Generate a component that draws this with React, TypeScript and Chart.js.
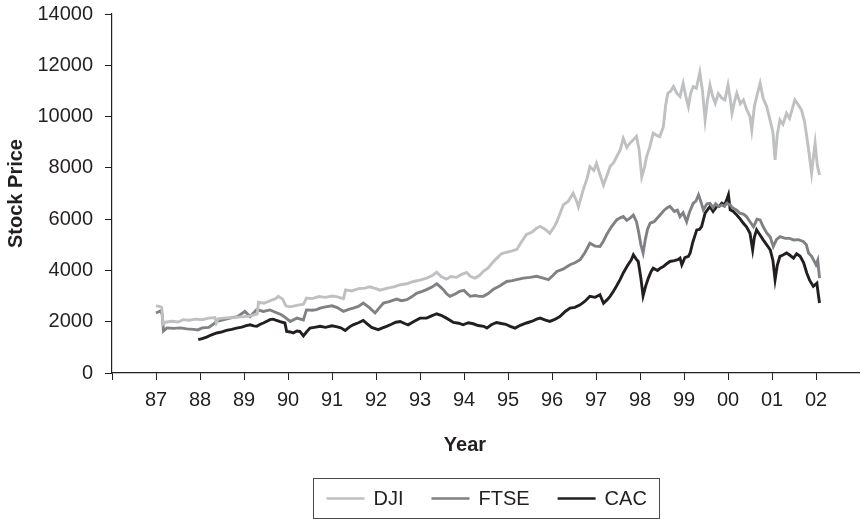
import React, { useEffect, useRef } from "react";
import { Chart, registerables } from "chart.js";

Chart.register(...registerables);

const FAMILY = "'Liberation Sans', Arial, Helvetica, sans-serif";
const TEXT = "#231f20";

const Y_TITLE = "Stock Price";
const X_TITLE = "Year";
const SERIES_NAMES = ["DJI", "FTSE", "CAC"];
const SERIES_COLORS = ["#bfc0c2", "#808184", "#231f20"];

const YEAR_MIN = 1986;
const YEAR_MAX = 2003;
const Y_MIN = 0;
const Y_MAX = 14000;
const Y_STEP = 2000;

// [year, value]
const DJI: [number, number][] = [
  [1987.0, 2620], [1987.08, 2600], [1987.13, 2560], [1987.16, 1900], [1987.22, 1980], [1987.35, 2020],
  [1987.5, 1990], [1987.62, 2080], [1987.75, 2060], [1987.9, 2100], [1988.05, 2080], [1988.2, 2140],
  [1988.34, 2160], [1988.37, 1950], [1988.42, 2120], [1988.6, 2150], [1988.8, 2170], [1989.0, 2200],
  [1989.15, 2230], [1989.3, 2300], [1989.33, 2760], [1989.45, 2720], [1989.6, 2820], [1989.72, 2900],
  [1989.78, 2990], [1989.88, 2880], [1989.95, 2620], [1990.05, 2580], [1990.2, 2640], [1990.35, 2680],
  [1990.42, 2920], [1990.55, 2900], [1990.7, 2980], [1990.85, 2950], [1991.0, 3000], [1991.12, 2970],
  [1991.26, 2900], [1991.31, 3240], [1991.45, 3200], [1991.6, 3290], [1991.75, 3310], [1991.86, 3360],
  [1992.0, 3290], [1992.09, 3230], [1992.24, 3300], [1992.4, 3360], [1992.55, 3440], [1992.7, 3480],
  [1992.85, 3570], [1993.0, 3620], [1993.15, 3700], [1993.28, 3800], [1993.38, 3930], [1993.48, 3760],
  [1993.6, 3660], [1993.7, 3760], [1993.83, 3730], [1993.95, 3850], [1994.06, 3920], [1994.15, 3760],
  [1994.25, 3700], [1994.35, 3800], [1994.44, 3960], [1994.55, 4100], [1994.67, 4350], [1994.76, 4500],
  [1994.85, 4650], [1994.95, 4700], [1995.1, 4760], [1995.2, 4820], [1995.3, 5100], [1995.42, 5400],
  [1995.55, 5500], [1995.65, 5650], [1995.73, 5720], [1995.85, 5600], [1995.95, 5450], [1996.05, 5700],
  [1996.11, 5900], [1996.2, 6300], [1996.26, 6560], [1996.37, 6700], [1996.48, 7010], [1996.56, 6700],
  [1996.6, 6480], [1996.71, 7150], [1996.8, 7600], [1996.86, 8050], [1996.95, 7900], [1997.01, 8180],
  [1997.08, 7800], [1997.17, 7330], [1997.25, 7700], [1997.32, 8050], [1997.4, 8200], [1997.47, 8440],
  [1997.55, 8700], [1997.62, 9150], [1997.7, 8800], [1997.77, 8960], [1997.85, 9100], [1997.92, 9230],
  [1997.98, 8700], [1998.04, 7650], [1998.1, 8000], [1998.15, 8440], [1998.22, 8800], [1998.3, 9350],
  [1998.4, 9250], [1998.45, 9220], [1998.53, 9600], [1998.58, 10400], [1998.63, 10900], [1998.7, 11000],
  [1998.76, 11170], [1998.84, 10900], [1998.91, 10780], [1998.98, 11300], [1999.04, 10800], [1999.1, 10390],
  [1999.15, 10900], [1999.21, 11170], [1999.28, 11100], [1999.36, 11720], [1999.42, 11000], [1999.48, 9870],
  [1999.53, 10600], [1999.59, 11230], [1999.65, 10800], [1999.71, 10520], [1999.78, 10900], [1999.86, 10720],
  [1999.93, 10650], [2000.0, 11230], [2000.05, 10700], [2000.09, 10130], [2000.15, 10600], [2000.2, 10910],
  [2000.28, 10500], [2000.35, 10650], [2000.42, 10300], [2000.5, 10000], [2000.54, 9480], [2000.6, 10400],
  [2000.67, 10900], [2000.73, 11300], [2000.8, 10700], [2000.88, 10390], [2000.95, 9900], [2001.02, 9400],
  [2001.07, 8310], [2001.12, 9300], [2001.18, 9870], [2001.25, 9700], [2001.33, 10130], [2001.4, 9930],
  [2001.46, 10300], [2001.52, 10650], [2001.6, 10450], [2001.67, 10260], [2001.74, 9800], [2001.79, 9220],
  [2001.84, 8600], [2001.9, 7790], [2001.94, 8400], [2001.98, 8960], [2002.03, 8100], [2002.08, 7720],
];

const FTSE: [number, number][] = [
  [1987.0, 2340], [1987.05, 2380], [1987.1, 2420], [1987.14, 2300], [1987.17, 1640], [1987.25, 1760],
  [1987.4, 1740], [1987.55, 1760], [1987.7, 1720], [1987.85, 1700], [1987.95, 1680], [1988.05, 1760],
  [1988.2, 1780], [1988.3, 1900], [1988.38, 2010], [1988.5, 2060], [1988.68, 2140], [1988.85, 2200],
  [1989.02, 2400], [1989.14, 2200], [1989.22, 2350], [1989.29, 2470], [1989.44, 2400], [1989.59, 2460],
  [1989.7, 2380], [1989.85, 2270], [1989.95, 2150], [1990.05, 2010], [1990.2, 2140], [1990.35, 2070],
  [1990.42, 2460], [1990.55, 2450], [1990.65, 2470], [1990.73, 2530], [1990.85, 2580], [1991.0, 2620],
  [1991.12, 2550], [1991.26, 2400], [1991.38, 2480], [1991.48, 2530], [1991.6, 2600], [1991.71, 2730],
  [1991.85, 2550], [1991.98, 2340], [1992.08, 2550], [1992.17, 2730], [1992.3, 2780], [1992.47, 2880],
  [1992.58, 2820], [1992.7, 2860], [1992.82, 2980], [1992.92, 3110], [1993.05, 3180], [1993.15, 3250],
  [1993.27, 3350], [1993.38, 3480], [1993.45, 3380], [1993.53, 3250], [1993.6, 3100], [1993.68, 2990],
  [1993.8, 3080], [1993.9, 3180], [1994.0, 3220], [1994.07, 3100], [1994.14, 2990], [1994.25, 3020],
  [1994.35, 2990], [1994.44, 2990], [1994.55, 3100], [1994.67, 3270], [1994.82, 3400], [1994.97, 3570],
  [1995.1, 3600], [1995.22, 3650], [1995.35, 3700], [1995.5, 3730], [1995.65, 3770], [1995.8, 3700],
  [1995.92, 3640], [1996.02, 3800], [1996.11, 3960], [1996.25, 4050], [1996.41, 4220], [1996.52, 4300],
  [1996.64, 4420], [1996.75, 4700], [1996.86, 5060], [1996.98, 4950], [1997.09, 4930], [1997.17, 5150],
  [1997.24, 5390], [1997.35, 5700], [1997.47, 5970], [1997.55, 6050], [1997.62, 6100], [1997.7, 5950],
  [1997.78, 6050], [1997.85, 6160], [1997.92, 5900], [1997.96, 5580], [1998.02, 5000], [1998.07, 4680],
  [1998.12, 5200], [1998.17, 5600], [1998.23, 5840], [1998.32, 5900], [1998.45, 6150], [1998.55, 6350],
  [1998.62, 6450], [1998.68, 6500], [1998.78, 6300], [1998.85, 6350], [1998.91, 6100], [1998.98, 6250],
  [1999.06, 5900], [1999.12, 6250], [1999.21, 6620], [1999.27, 6700], [1999.33, 6950], [1999.38, 6700],
  [1999.44, 6360], [1999.52, 6600], [1999.59, 6620], [1999.66, 6450], [1999.72, 6600], [1999.78, 6490],
  [1999.86, 6550], [1999.92, 6500], [1999.97, 6620], [2000.05, 6550], [2000.12, 6420], [2000.2, 6350],
  [2000.27, 6230], [2000.35, 6200], [2000.42, 6100], [2000.5, 5900], [2000.58, 5700], [2000.66, 6000],
  [2000.73, 5970], [2000.8, 5700], [2000.88, 5460], [2000.96, 5300], [2001.03, 4930], [2001.1, 5200],
  [2001.18, 5320], [2001.3, 5250], [2001.4, 5250], [2001.49, 5190], [2001.6, 5200], [2001.71, 5130],
  [2001.78, 5000], [2001.83, 4680], [2001.9, 4550], [2001.94, 4420], [2002.0, 4220], [2002.04, 4400],
  [2002.08, 3700],
];

const CAC: [number, number][] = [
  [1987.96, 1300], [1988.05, 1340], [1988.15, 1400], [1988.25, 1480], [1988.38, 1560], [1988.5, 1600],
  [1988.6, 1660], [1988.72, 1700], [1988.83, 1750], [1988.95, 1790], [1989.05, 1850], [1989.14, 1880],
  [1989.22, 1840], [1989.29, 1820], [1989.37, 1900], [1989.44, 1950], [1989.52, 2020], [1989.59, 2080],
  [1989.66, 2100], [1989.72, 2060], [1989.82, 2000], [1989.93, 1950], [1989.97, 1620], [1990.05, 1600],
  [1990.12, 1560], [1990.2, 1640], [1990.27, 1620], [1990.35, 1450], [1990.42, 1600], [1990.5, 1750],
  [1990.6, 1780], [1990.73, 1820], [1990.85, 1780], [1991.0, 1840], [1991.12, 1800], [1991.2, 1760],
  [1991.3, 1660], [1991.4, 1800], [1991.48, 1880], [1991.6, 1960], [1991.71, 2050], [1991.8, 1920],
  [1991.9, 1780], [1992.05, 1690], [1992.15, 1760], [1992.24, 1820], [1992.35, 1900], [1992.45, 1980],
  [1992.55, 2010], [1992.65, 1930], [1992.73, 1880], [1992.85, 2000], [1993.0, 2140], [1993.15, 2140],
  [1993.25, 2220], [1993.38, 2310], [1993.48, 2250], [1993.6, 2140], [1993.68, 2060], [1993.76, 1970],
  [1993.88, 1940], [1993.98, 1880], [1994.1, 1960], [1994.21, 1920], [1994.32, 1850], [1994.45, 1820],
  [1994.52, 1750], [1994.62, 1880], [1994.74, 1970], [1994.85, 1930], [1994.95, 1900], [1995.05, 1820],
  [1995.16, 1750], [1995.28, 1860], [1995.42, 1950], [1995.55, 2020], [1995.65, 2100], [1995.73, 2140],
  [1995.85, 2060], [1995.95, 2010], [1996.05, 2080], [1996.18, 2200], [1996.3, 2400], [1996.41, 2530],
  [1996.52, 2560], [1996.64, 2660], [1996.75, 2800], [1996.86, 2990], [1996.98, 2950], [1997.09, 3050],
  [1997.17, 2720], [1997.25, 2850], [1997.32, 2990], [1997.4, 3200], [1997.47, 3400], [1997.55, 3650],
  [1997.62, 3900], [1997.72, 4200], [1997.8, 4400], [1997.85, 4610], [1997.91, 4450], [1997.96, 4350],
  [1998.02, 3700], [1998.07, 3010], [1998.13, 3400], [1998.19, 3700], [1998.25, 3950], [1998.3, 4090],
  [1998.4, 4000], [1998.46, 4090], [1998.53, 4150], [1998.6, 4250], [1998.68, 4350], [1998.78, 4380],
  [1998.86, 4420], [1998.91, 4480], [1998.95, 4220], [1999.02, 4500], [1999.1, 4550], [1999.14, 4680],
  [1999.2, 5100], [1999.29, 5580], [1999.35, 5600], [1999.4, 5710], [1999.48, 6230], [1999.55, 6400],
  [1999.59, 6490], [1999.66, 6300], [1999.74, 6490], [1999.8, 6500], [1999.86, 6620], [1999.92, 6550],
  [1999.97, 6750], [2000.01, 6950], [2000.05, 6360], [2000.12, 6300], [2000.2, 6160], [2000.28, 6000],
  [2000.35, 5840], [2000.42, 5700], [2000.5, 5450], [2000.56, 4800], [2000.6, 5300], [2000.65, 5580],
  [2000.72, 5400], [2000.8, 5190], [2000.88, 5000], [2000.96, 4800], [2001.02, 4400], [2001.07, 3640],
  [2001.12, 4200], [2001.18, 4550], [2001.25, 4600], [2001.33, 4680], [2001.4, 4600], [2001.49, 4480],
  [2001.56, 4650], [2001.64, 4550], [2001.72, 4300], [2001.79, 3900], [2001.86, 3600], [2001.94, 3380],
  [2002.02, 3500], [2002.05, 3100], [2002.08, 2730],
];

const SERIES = [DJI, FTSE, CAC];

const decorPlugin = {
  id: "decor",
  afterDraw(chart: any) {
    const ctx = chart.ctx as CanvasRenderingContext2D;
    const ca = chart.chartArea;
    ctx.save();
    ctx.fillStyle = TEXT;
    ctx.textAlign = "center";
    ctx.textBaseline = "middle";
    ctx.font = `bold 20px ${FAMILY}`;
    // y axis title
    ctx.save();
    ctx.translate(16, (ca.top + ca.bottom) / 2);
    ctx.rotate(-Math.PI / 2);
    ctx.fillText(Y_TITLE, 0, 0);
    ctx.restore();
    // x axis title
    ctx.fillText(X_TITLE, 465, 445);

    // legend
    ctx.font = `20px ${FAMILY}`;
    const lineLen = 38;
    const gapText = 9;
    const gapItem = 28;
    const ds = chart.data.datasets;
    const widths = ds.map((d: any) => ctx.measureText(d.label).width);
    let total = 0;
    widths.forEach((w: number, i: number) => {
      total += lineLen + gapText + w + (i < widths.length - 1 ? gapItem : 0);
    });
    const padX = 13;
    const cx = (ca.left + ca.right) / 2;
    const boxL = Math.round(cx - total / 2 - padX) + 0.5;
    const boxW = Math.round(total + padX * 2);
    const boxT = 478.5;
    const boxH = 40;
    ctx.strokeStyle = "#4a4a4a";
    ctx.lineWidth = 1;
    ctx.strokeRect(boxL, boxT, boxW, boxH);
    const ly = boxT + boxH / 2;
    let x = boxL + padX;
    ctx.textAlign = "left";
    ds.forEach((d: any, i: number) => {
      ctx.strokeStyle = d.borderColor;
      ctx.lineWidth = 2.5;
      ctx.beginPath();
      ctx.moveTo(x, ly);
      ctx.lineTo(x + lineLen, ly);
      ctx.stroke();
      x += lineLen + gapText;
      ctx.fillStyle = TEXT;
      ctx.fillText(d.label, x, ly + 1);
      x += widths[i] + gapItem;
    });
    ctx.restore();
  },
};

function zeroPadding(s: any) {
  s.paddingLeft = 0;
  s.paddingRight = 0;
  s.paddingTop = 0;
  s.paddingBottom = 0;
}

export default function App() {
  const ref = useRef<HTMLCanvasElement | null>(null);

  useEffect(() => {
    if (!ref.current) return;
    const chart = new Chart(ref.current, {
      type: "line",
      data: {
        datasets: SERIES.map((s, i) => ({
          label: SERIES_NAMES[i],
          data: s.map(([x, y]) => ({ x, y })),
          borderColor: SERIES_COLORS[i],
          backgroundColor: SERIES_COLORS[i],
          borderWidth: 2.9,
          pointRadius: 0,
          tension: 0,
          fill: false,
        })),
      },
      options: {
        responsive: false,
        animation: false,
        events: [],
        layout: { padding: { left: 0, top: 14, right: 0, bottom: 0 } },
        plugins: {
          legend: { display: false },
          tooltip: { enabled: false },
          title: { display: false },
        },
        scales: {
          x: {
            type: "linear",
            min: YEAR_MIN,
            max: YEAR_MAX,
            afterFit: (s: any) => {
              s.height = 146;
              zeroPadding(s);
            },
            afterBuildTicks: (s: any) => {
              const t = [];
              for (let v = YEAR_MIN; v <= YEAR_MAX; v++) t.push({ value: v });
              s.ticks = t;
            },
            ticks: {
              autoSkip: false,
              maxRotation: 0,
              minRotation: 0,
              padding: 8,
              color: TEXT,
              font: { family: FAMILY, size: 20 },
              callback: (v: any) => {
                const n = Number(v);
                if (n <= YEAR_MIN || n >= YEAR_MAX) return "";
                return String(n % 100).padStart(2, "0");
              },
            },
            grid: {
              display: true,
              drawOnChartArea: false,
              drawTicks: true,
              tickLength: 7,
              color: TEXT,
              lineWidth: 1,
            },
            border: { display: true, color: TEXT, width: 1.2 },
          },
          y: {
            min: Y_MIN,
            max: Y_MAX,
            afterFit: (s: any) => {
              s.width = 112;
              zeroPadding(s);
            },
            ticks: {
              stepSize: Y_STEP,
              padding: 12,
              color: TEXT,
              font: { family: FAMILY, size: 20 },
              callback: (v: any) => String(v),
            },
            grid: {
              display: true,
              drawOnChartArea: false,
              drawTicks: true,
              tickLength: 7,
              color: TEXT,
              lineWidth: 1,
            },
            border: { display: true, color: TEXT, width: 1.2 },
          },
        },
      },
      plugins: [decorPlugin],
    } as any);
    return () => chart.destroy();
  }, []);

  return (
    <div style={{ position: "absolute", left: 0, top: 0, width: 860, height: 519, background: "#fff", overflow: "hidden" }}>
      <canvas ref={ref} width={860} height={519} style={{ display: "block", width: 860, height: 519 }} />
    </div>
  );
}
